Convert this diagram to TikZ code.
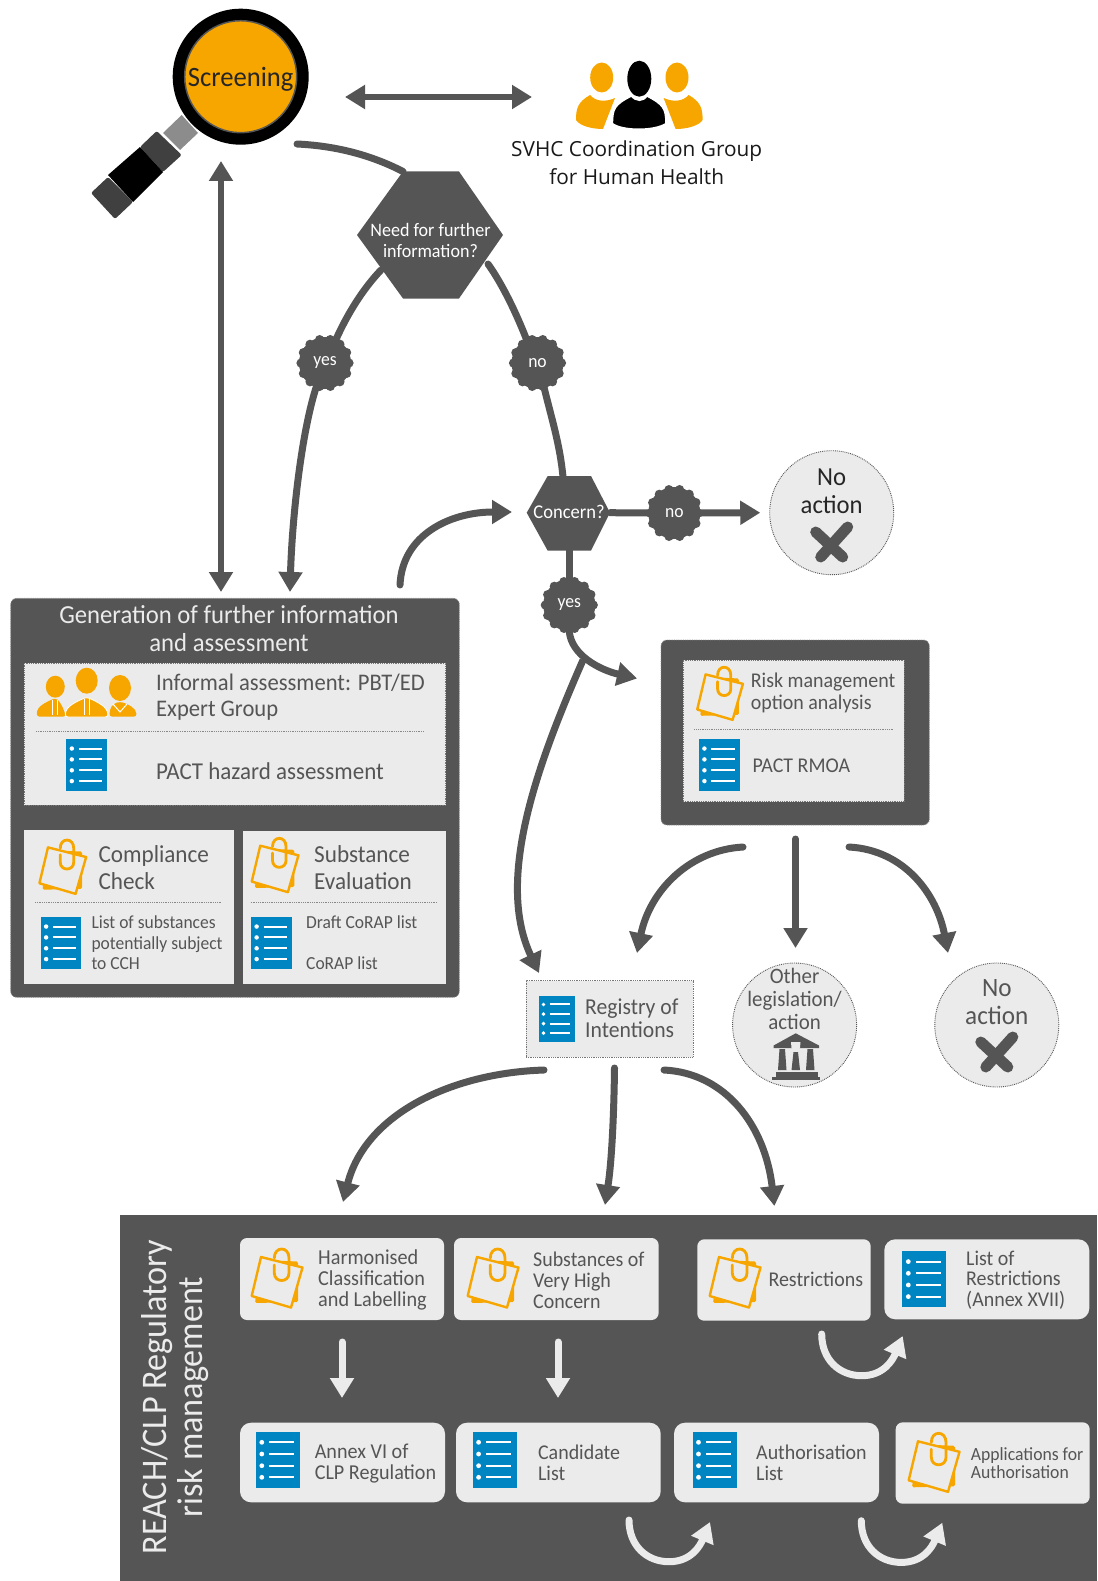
\documentclass[tikz,border=0pt]{standalone}
\usepackage{fontspec}
\setmainfont[FakeStretch=0.95]{Carlito}
\newfontfamily\topfont{Open Sans}
\usetikzlibrary{arrows.meta,calc}
\definecolor{dk}{HTML}{555555}
\definecolor{lt}{HTML}{EBEBEB}
\definecolor{og}{HTML}{F7A600}
\definecolor{bl}{HTML}{0085C3}
\newcommand\bx[6]{\node[#6,minimum width={#4-#2},minimum height={#5-#3}] (#1) at ({(#2+#4)/2},{(#3+#5)/2}) {};}
\newcommand\txt[7][1.12]{\pgfmathsetmacro\ldskip{#5*#1}\node[tx,#6,font=\fontsize{#5}{\ldskip}\selectfont] (#2) at (#3,#4) {#7};}
\newcommand\badge[4]{%
  \foreach \a in {0,25.7,...,340}{\fill[dk] ($(#2,#3)+(\a:24)$) circle (4.6);}
  \node[circle,fill=dk,minimum size=52,inner sep=0,text=white,font=\fontsize{18.5}{20}\selectfont] (#1) at (#2,#3) {\raisebox{-5pt}{#4}};}
\newcommand\crossmark[2]{%
  \draw[dk,line width=11,line cap=round] ($(#1,#2)+(-16,-10)$) -- ($(#1,#2)+(11,15)$);
  \draw[dk,line width=11,line cap=round] ($(#1,#2)+(16,-15)$) -- ($(#1,#2)+(-11,15)$);}
\tikzset{
  inner sep=0pt,
  tx/.style={inner sep=0pt,anchor=west,align=left,text=dk},
  txc/.style={anchor=center,align=center},
  panel/.style={fill=lt,inner sep=0pt},
  dpanel/.style={fill=lt,draw=dk!80,densely dotted,line width=.8,inner sep=0pt},
  rpanel/.style={fill=lt,rounded corners=7,inner sep=0pt},
  rrpanel/.style={fill=lt,rounded corners=11,inner sep=0pt},
  dkbox/.style={fill=dk,rounded corners=6,draw=dk!70,densely dotted,line width=.8,inner sep=0pt},
  disc/.style={circle,fill=lt,draw=dk,densely dotted,line width=.9,minimum size=124,inner sep=0pt},
  conn/.style={draw=dk,line width=7,line cap=round,-{Triangle[length=20pt,width=23pt]}},
  both/.style={draw=dk,line width=6.5,{Triangle[length=20pt,width=23pt]}-{Triangle[length=20pt,width=23pt]}},
  plain/.style={draw=dk,line width=7,line cap=round},
  wconn/.style={draw=lt,line width=7,line cap=round,-{Triangle[length=20pt,width=23pt]}},
  sep/.style={draw=dk!70,densely dotted,line width=.8},
  docicon/.pic={
    \fill[bl] (-22,-28) rectangle (22,28);
    \foreach \r in {-17.7,-6,5.7,17.3}{
      \fill[white] (-16,\r) circle (2.4);
      \draw[white,line width=2] (-8.5,\r) -- (16.5,\r);}
  },
  noteicon/.pic={
    \fill[og,rounded corners=1.5] (-16,-18) -- (21,-16.5) -- (21,24) -- (-22,25) -- cycle;
    \draw[og,fill=lt,line width=2.4,line join=round] (-16,-21) -- (25.5,-10.5) -- (14,29.5) -- (-25.3,18) -- cycle;
    \draw[og,line width=2.8,line cap=round] (-2.7,-13) -- (-2.7,-5) .. controls (-2.7,5) and (12,5) .. (12,-5) -- (12,-20) .. controls (12,-32) and (-2.7,-32) .. (-2.7,-20);
  }
}
\begin{document}
\begin{tikzpicture}[x=1pt,y=-1pt]
\useasboundingbox (0,0) rectangle (1097,1581);
\fill[white] (0,0) rectangle (1097,1581);

% ---- magnifying glass
\fill[gray!90] (181.7,115) -- (198,133) -- (180,150) -- (163,133) -- cycle;
\fill[black!75,rounded corners=2] (156.7,131) -- (181.7,155) -- (163,172) -- (140,147) -- cycle;
\fill[black] (140,147) -- (163,172) -- (133,202) -- (108,175) -- cycle;
\fill[black!75,rounded corners=2] (108,177) -- (133,202) -- (115,219) -- (91,193) -- cycle;
\node[circle,fill=black,minimum size=136,inner sep=0] (lensrim) at (240.7,76.7) {};
\node[circle,fill=og,draw=dk,line width=1.5,minimum size=112,inner sep=0] (screen) at (240.7,76.7) {};
\node[text=black!85,font=\fontsize{28}{30}\selectfont] (screent) at (240.7,79) {Screening};

% ---- SVHC group icon
\fill[og] (576,120) .. controls (576,108) and (578,102) .. (590,95) .. controls (596,102) and (606,102) .. (615,98) -- (603,129) .. controls (592,129) and (580,126) .. (576,120) -- cycle;
\fill[og] (702.6,120) .. controls (702.6,108) and (700.6,102) .. (688.6,95) .. controls (682.6,102) and (672.6,102) .. (663.6,98) -- (675.6,129) .. controls (686.6,129) and (698.6,126) .. (702.6,120) -- cycle;
\fill[og] (601.7,77.5) ellipse (11.5 and 15);
\fill[og] (677,77.5) ellipse (11.5 and 15);
\draw[white,line width=3,fill=black] (611.7,124) .. controls (611.7,108) and (614,104) .. (631.7,95) .. controls (636,101) and (643,101) .. (646.7,95) .. controls (664,104) and (666.7,108) .. (666.7,124) .. controls (655,132) and (622,132) .. (611.7,124) -- cycle;
\fill[black] (639.3,78.7) ellipse (12 and 18);
\node[font=\topfont\fontsize{20.8}{27.5}\selectfont,align=center,text=black!90] (svhc) at (636.7,162.5) {SVHC Coordination Group\\for Human Health};
\coordinate (svhcL) at (532,97);
\coordinate (lensR) at (345,97);
\draw[both] (lensR) -- (svhcL);

% ---- decision hexagons
\fill[dk] (357,235) -- (403,171.5) -- (459,171.5) -- (503,235) -- (459,298.5) -- (403,298.5) -- cycle;
\node[text=white,align=center,font=\fontsize{19}{21}\selectfont] (need) at (430.5,240) {Need for further\\information?};
\coordinate (needT) at (403,171.5);
\coordinate (needL) at (381,270);
\coordinate (needR) at (488,264);
\coordinate (lensE) at (297,144);
\draw[plain] (lensE) .. controls (340,146) and (375,157) .. (needT);

\fill[dk] (526.7,512.7) -- (547.7,476) -- (591,476) -- (610,512.7) -- (591,550.7) -- (547.7,550.7) -- cycle;
\node[text=white,font=\fontsize{19.5}{21}\selectfont] (concern) at (569,512) {Concern?};
\coordinate (concT) at (563,477);
\coordinate (concR) at (610,512.7);
\coordinate (concB) at (569.3,550);
\coordinate (concL) at (512,512);

\badge{yesA}{325}{363}{yes}
\badge{noA}{537.5}{363}{no}
\badge{noB}{674.3}{513}{no}
\badge{yesB}{569.3}{605}{yes}

% ---- no action 1
\node[disc] (noact1) at (831.7,512.7) {};
\node[tx,txc,text=black!85,font=\fontsize{26}{27.5}\selectfont] (noact1t) at (831.7,491) {No\\action};
\crossmark{831.7}{542}

% ---- generation box
\bx{gen}{10.7}{598.3}{459.3}{997.3}{dkbox}
\node[text=lt,align=center,font=\fontsize{26}{27.5}\selectfont] (gent) at (229,628.5) {Generation of further information\\and assessment};
\bx{gen1}{24}{663.3}{445.7}{805}{dpanel}
\txt{infot}{156}{697}{23.8}{}{Informal assessment: PBT/ED\\Expert Group}
\draw[sep] (36,731) -- (424,731);
\pic[scale=.93] at (86.7,765) {docicon};
\txt{pactt}{156}{771}{24.2}{}{PACT hazard assessment}
% people
\fill[og] (55.3,686.7) ellipse (9.5 and 11);
\fill[og,rounded corners=3] (36.7,716.7) .. controls (37,706) and (45,703) .. (55,698) .. controls (58,700) and (62,704) .. (66,716.7) -- cycle;
\fill[og] (120,688) ellipse (11 and 13);
\fill[og,rounded corners=3] (109.3,716.7) .. controls (110,708) and (112,704) .. (120,701.7) .. controls (128,704) and (136,708) .. (136.7,716.7) -- cycle;
\fill[og] (86.7,680.7) ellipse (11 and 13);
\draw[white,line width=.8,fill=og,rounded corners=3] (65,717) .. controls (66,706) and (76,702) .. (86.7,697) .. controls (97,702) and (107,706) .. (108.3,717) -- cycle;
\draw[white,line width=1] (84.5,699) -- (84.5,715) (89,699) -- (89,715);
\draw[white,line width=1] (52.5,700) -- (52.5,715) (57.5,700) -- (57.5,715);
\draw[white,line width=1] (113,704) -- (120,712) -- (127,704);

\bx{gen2}{24}{830}{234}{984}{panel}
\bx{gen3}{243}{831}{446}{984}{panel}
\pic[scale=.92] at (62.7,866.7) {noteicon};
\pic[scale=.92] at (275,865) {noteicon};
\txt[1.09]{ccht}{98.3}{867.5}{24.4}{}{Compliance\\Check}
\txt[1.09]{subt}{314}{867.5}{24.4}{}{Substance\\Evaluation}
\draw[sep] (35,902.3) -- (221,902.3);
\draw[sep] (250.7,902.3) -- (436.7,902.3);
\pic[scale=.93] at (61,943) {docicon};
\pic[scale=.93] at (271.5,943) {docicon};
\txt[1.13]{listt}{91.3}{942.8}{18.4}{}{List of substances\\potentially subject\\to CCH}
\txt{draftt}{306}{922.2}{18.4}{}{Draft CoRAP list}
\txt{corapt}{306}{963.2}{18.4}{}{CoRAP list}

% ---- RMOA box
\bx{rmoa}{661}{640}{929.3}{825}{dkbox}
\bx{rmoa1}{683}{660}{904}{801.7}{dpanel}
\pic[scale=.9] at (720,693.3) {noteicon};
\txt[1.02]{rmot}{750.7}{693}{21}{}{Risk management\\option analysis}
\draw[sep] (694.3,729.7) -- (894,729.7);
\pic[scale=.93] at (719.3,765) {docicon};
\txt{pmoat}{752.3}{765.5}{21}{}{PACT RMOA}

% ---- registry, other, no action 2
\bx{reg}{526}{980.7}{692.9}{1057.3}{dpanel}
\pic[scale=.82] at (556.6,1019) {docicon};
\txt[1.02]{regt}{585}{1018}{22.8}{}{Registry of\\Intentions}
\node[disc] (other) at (794.6,1025) {};
\node[tx,txc,font=\fontsize{22}{23}\selectfont] (othert) at (794.6,999) {Other\\legislation/\\action};
\fill[dk] (795.7,1033.3) -- (819,1045.5) -- (819,1048) -- (773.6,1048) -- (773.6,1045.5) -- cycle;
\fill[lt] (791,1042) -- (800.5,1042) -- (800,1048) -- (795.7,1052) -- (791.5,1048) -- cycle;
\fill[dk] (779.5,1049) -- (785,1049) -- (786.5,1070) -- (778,1070) -- cycle;
\fill[dk] (793.5,1052) -- (798,1052) -- (800,1070) -- (791.5,1070) -- cycle;
\fill[dk] (807.5,1049) -- (813,1049) -- (814.5,1070) -- (806,1070) -- cycle;
\fill[dk] (776,1071.5) rectangle (818,1077.5);
\fill[dk] (772,1077) rectangle (820,1080);
\node[disc] (noact2) at (996.8,1025) {};
\node[tx,txc,font=\fontsize{26.5}{28}\selectfont] (noact2t) at (996.8,1002.5) {No\\action};
\crossmark{996.8}{1052}

% ---- big panel
\fill[dk] (120,1215) rectangle (1097,1581);
\node[rotate=90,align=center,text=lt,font=\fontsize{36}{36.5}\selectfont] (reach) at (175,1397) {REACH/CLP Regulatory\\risk management};
\bx{hcl}{240}{1238}{444}{1320}{rpanel}
\bx{svhcb}{454}{1238}{658.6}{1320}{rpanel}
\bx{restr}{697.3}{1239.3}{870.7}{1320.7}{rpanel}
\bx{lrestr}{884.3}{1239.3}{1089.3}{1319.3}{rrpanel}
\bx{annex}{240}{1422.7}{445}{1502.3}{rrpanel}
\bx{cand}{456}{1422.7}{660.7}{1502.3}{rrpanel}
\bx{auth}{674}{1422.7}{879}{1502.3}{rrpanel}
\bx{apps}{895.7}{1422.3}{1089.7}{1503.7}{rpanel}
\pic at (277,1278) {noteicon};
\pic at (493,1278) {noteicon};
\pic at (735,1278) {noteicon};
\pic at (934,1462.3) {noteicon};
\pic at (924.3,1279.3) {docicon};
\pic at (277.8,1460) {docicon};
\pic at (494.6,1460) {docicon};
\pic at (714.5,1460) {docicon};
\txt[1]{hclt}{318}{1280}{21.3}{}{Harmonised\\Classification\\and Labelling}
\txt[1]{svhct}{533}{1280}{21}{}{Substances of\\Very High\\Concern}
\txt{restt}{768.3}{1279.5}{21}{}{Restrictions}
\txt[.97]{lrestt}{966}{1280}{21}{}{List of\\Restrictions\\(Annex XVII)}
\txt[1]{annext}{314.6}{1463.5}{21.2}{}{Annex VI of\\CLP Regulation}
\txt[1]{candt}{537.9}{1463}{21}{}{Candidate\\List}
\txt[1]{autht}{756}{1463}{21}{}{Authorisation\\List}
\txt[.97]{appst}{970.7}{1463.5}{18.6}{}{Applications for\\Authorisation}

% ---- connectors
\coordinate (lensB) at (221,161);
\coordinate (genA) at (221,592);
\draw[both] (lensB) -- (genA);
\coordinate (genB) at (290,592);
\coordinate (genC) at (400,585);
\draw[plain] (needL) .. controls (362,290) and (347,315) .. (yesA.65);
\draw[conn] (yesA.250) .. controls (301,435) and (292,520) .. (genB);
\draw[plain] (needR) .. controls (503,285) and (517,315) .. (noA.115);
\draw[plain] (noA.285) .. controls (552,420) and (560,445) .. (concT);
\draw[conn] (genC) .. controls (402,535) and (450,512) .. (concL);
\draw[plain] (concR) -- (noB.west);
\draw[conn] (noB.east) -- ([xshift=-9]noact1.west);
\draw[plain] (concB) -- (yesB.north);
\coordinate (rmoaTip) at (637,678.5);
\draw[conn] (yesB.south) .. controls (571,655) and (600,670) .. (rmoaTip);
\coordinate (junction) at (583,660);
\coordinate (regTip) at (539,973);
\draw[conn,line cap=butt] (junction) .. controls (537,765) and (495,880) .. (regTip);
\coordinate (rA) at (743,847);
\coordinate (rB) at (795.5,839);
\coordinate (rC) at (849,847);
\coordinate (rAe) at (637,953);
\coordinate (rBe) at (795.5,948);
\coordinate (rCe) at (948,953);
\draw[conn] (rA) .. controls (690,850) and (650,890) .. (rAe);
\draw[conn] (rB) -- (rBe);
\draw[conn] (rC) .. controls (905,850) and (937,895) .. (rCe);
\coordinate (gA) at (544,1070);
\coordinate (gB) at (614.5,1068);
\coordinate (gC) at (664,1070);
\coordinate (gAe) at (343,1202);
\coordinate (gBe) at (605,1205);
\coordinate (gCe) at (774.4,1206);
\draw[conn] (gA) .. controls (450,1073) and (365,1115) .. (gAe);
\draw[conn] (gB) .. controls (614,1110) and (612,1160) .. (gBe);
\draw[conn] (gC) .. controls (725,1073) and (765,1125) .. (gCe);
% white arrows
\coordinate (w1) at (342,1342);
\coordinate (w1e) at (342,1398);
\coordinate (w2) at (558,1342);
\coordinate (w2e) at (558,1398);
\draw[wconn] (w1) -- (w1e);
\draw[wconn] (w2) -- (w2e);
\coordinate (c1) at (821.7,1334);
\coordinate (c2) at (629,1520);
\coordinate (c3) at (861.3,1520.7);
\foreach \c in {c1,c2,c3}{
  \draw[wconn] (\c) .. controls +(0,26) and +(-22,0) .. ++(40,41.7) .. controls +(22,0) and +(-10,24) .. ++(41,-39.7);
}
\end{tikzpicture}
\end{document}
